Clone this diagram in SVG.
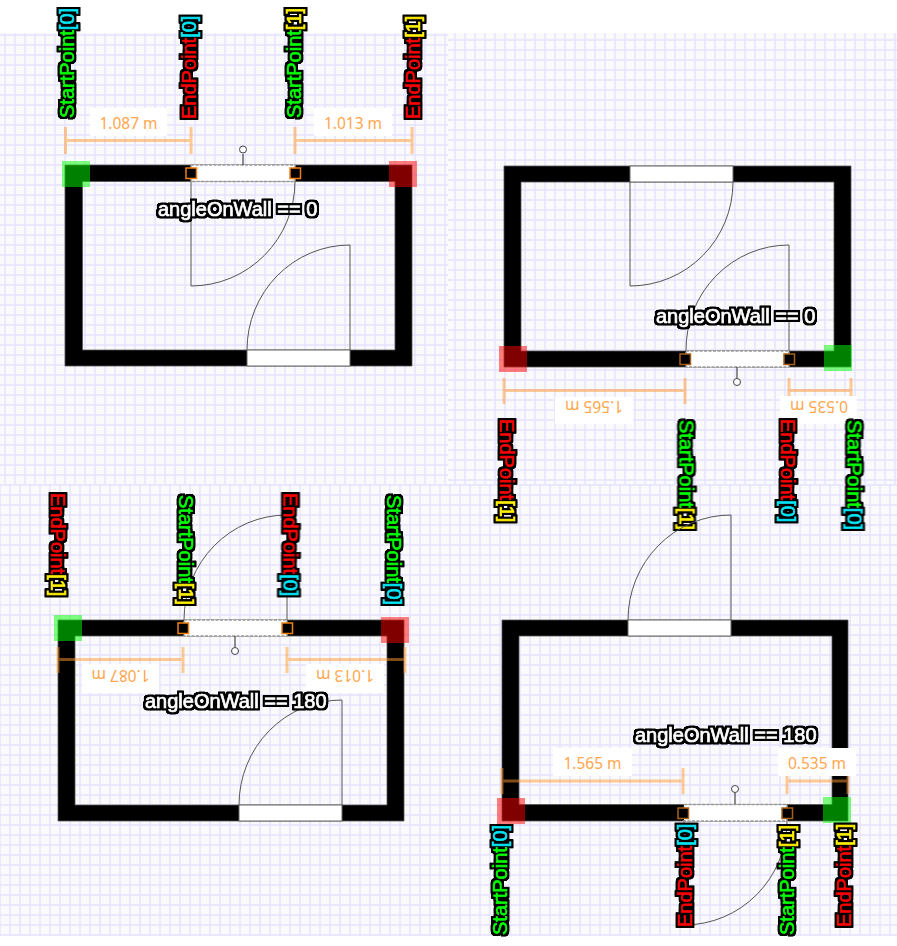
<svg xmlns="http://www.w3.org/2000/svg" width="897" height="946" viewBox="0 0 897 946">
<style>
.wall{fill:#000;stroke:#555;stroke-width:.8}
.door{fill:#fff;stroke:#666;stroke-width:1}
.seldoor{fill:#fff;stroke:#999;stroke-width:1.5;stroke-dasharray:3 1.5}
.swing{fill:none;stroke:#555;stroke-width:1}
.stem{fill:none;stroke:#222;stroke-width:1}
.knob{fill:#fff;stroke:#444;stroke-width:1}
.handle{fill:#000;stroke:#f08010;stroke-width:1.5}
.handle2{fill:#000;stroke:#a8601a;stroke-width:1.5}
.gs{fill:#00ff00;fill-opacity:.5}
.rs{fill:#ff0000;fill-opacity:.5}
.dim{fill:none;stroke:#ff9830;stroke-opacity:.5;stroke-width:3}
.box{fill:#fff}
.dt{font-family:"Noto Sans",sans-serif;font-size:15.5px;fill:#ffa64d;text-anchor:middle}
.lab{font-family:"Liberation Sans",sans-serif;font-size:20px;stroke-width:.7;filter:url(#halo)}
.angle{fill:#fff;stroke:#fff}
.s{fill:#00ff00;stroke:#00ff00}
.e{fill:#ff0000;stroke:#ff0000}
.c{fill:#00e8f8;stroke:#00e8f8}
.y{fill:#fff000;stroke:#fff000}
</style>
<defs>
<filter id="halo" x="-15%" y="-15%" width="130%" height="130%" color-interpolation-filters="sRGB">
<feMorphology in="SourceAlpha" operator="dilate" radius="1.8" result="d"/>
<feGaussianBlur in="d" stdDeviation=".6" result="b"/>
<feComponentTransfer in="b" result="h"><feFuncA type="linear" slope="1.8"/></feComponentTransfer>
<feGaussianBlur in="SourceGraphic" stdDeviation=".25" result="t"/>
<feMerge><feMergeNode in="h"/><feMergeNode in="t"/></feMerge>
</filter>
<pattern id="g1" patternUnits="userSpaceOnUse" width="10" height="10" x="0" y="0"><rect width="10" height="10" fill="#fafafa"/><path d="M5 0V10M0 5H10" stroke="#e5e3ff" stroke-width="1.400"/></pattern>
<pattern id="g2" patternUnits="userSpaceOnUse" width="10" height="10" x="0" y="5"><rect width="10" height="10" fill="#fafafa"/><path d="M5 0V10M0 5H10" stroke="#e5e3ff" stroke-width="1.400"/></pattern>
<pattern id="g3" patternUnits="userSpaceOnUse" width="10" height="10" x="5" y="0"><rect width="10" height="10" fill="#fafafa"/><path d="M5 0V10M0 5H10" stroke="#e5e3ff" stroke-width="1.400"/></pattern>
</defs>
<rect width="897" height="946" fill="#fff"/>
<rect id="bg1" x="0" y="33" width="448" height="451" fill="url(#g1)"/>
<rect id="bg2" x="448" y="33" width="449" height="451" fill="url(#g2)"/>
<rect id="bg3" x="0" y="484" width="897" height="452" fill="url(#g3)"/>

<g id="room1">
<path class="wall" fill-rule="evenodd" d="M65 165H412V366H65ZM82.500 181.500V350H395V181.500Z"/>
<rect class="door" x="247" y="350" width="103" height="16"/>
<path class="swing" d="M350 350V245A103 105 0 0 0 247 350"/>
<path class="swing" d="M191 181V286A104 105 0 0 0 295 181"/>
<rect class="seldoor" x="191" y="165" width="104" height="16.500"/>
<rect class="gs" x="62" y="161" width="28" height="26"/>
<rect class="rs" x="389" y="161" width="28" height="26"/>
<rect class="handle" x="186" y="168" width="10.500" height="10.500"/>
<rect class="handle" x="290" y="168" width="10.500" height="10.500"/>
<path class="stem" d="M243 165V154"/><circle class="knob" cx="243" cy="149.500" r="3.500"/>
<path class="dim" d="M65.500 127V154M65.500 140.500H191M191 127V154"/>
<path class="dim" d="M295 127V154M295 140.500H412M412 127V154"/>
<rect class="box" x="90" y="108" width="77" height="28"/><text class="dt" x="128.500" y="129">1.087 m</text>
<rect class="box" x="314" y="108" width="78" height="28"/><text class="dt" x="353" y="129">1.013 m</text>
<text class="lab angle" x="158" y="216">angleOnWall == 0</text>
<text class="lab" transform="translate(74 118) rotate(-90)"><tspan class="s">StartPoint</tspan><tspan class="c">[0]</tspan></text>
<text class="lab" transform="translate(196 119) rotate(-90)"><tspan class="e">EndPoint</tspan><tspan class="c">[0]</tspan></text>
<text class="lab" transform="translate(301 118) rotate(-90)"><tspan class="s">StartPoint</tspan><tspan class="y">[1]</tspan></text>
<text class="lab" transform="translate(420 119) rotate(-90)"><tspan class="e">EndPoint</tspan><tspan class="y">[1]</tspan></text>
</g>

<g id="room2">
<path class="wall" fill-rule="evenodd" d="M504 166H851V367H504ZM521 182V351H834V182Z"/>
<rect class="door" x="630" y="166" width="103" height="16"/>
<path class="swing" d="M630 182V286A103 104 0 0 0 733 182"/>
<path class="swing" d="M789 351V245A103 105 0 0 0 686 351"/>
<rect class="seldoor" x="686" y="351" width="103" height="16"/>
<rect class="gs" x="824" y="345" width="28" height="26"/>
<rect class="rs" x="499" y="346" width="28" height="26"/>
<rect class="handle2" x="680" y="354" width="10.500" height="10.500"/>
<rect class="handle2" x="784" y="354" width="10.500" height="10.500"/>
<path class="stem" d="M737 367V378"/><circle class="knob" cx="737" cy="382" r="3.500"/>
<path class="dim" d="M504 378V404M504 390.500H685M685 378V404"/>
<path class="dim" d="M789 378V404M789 390.500H851M851 378V404"/>
<rect class="box" x="555" y="397" width="78" height="27"/><text class="dt" transform="translate(594 401) rotate(180)">1.565 m</text>
<rect class="box" x="780" y="396" width="77" height="28"/><text class="dt" transform="translate(819 401) rotate(180)">0.535 m</text>
<text class="lab angle" x="656" y="323">angleOnWall == 0</text>
<text class="lab" transform="translate(500 419) rotate(90)"><tspan class="e">EndPoint</tspan><tspan class="y">[1]</tspan></text>
<text class="lab" transform="translate(679.500 420) rotate(90)"><tspan class="s">StartPoint</tspan><tspan class="y">[1]</tspan></text>
<text class="lab" transform="translate(781 419) rotate(90)"><tspan class="e">EndPoint</tspan><tspan class="c">[0]</tspan></text>
<text class="lab" transform="translate(847.500 420) rotate(90)"><tspan class="s">StartPoint</tspan><tspan class="c">[0]</tspan></text>
</g>

<g id="room3">
<path class="wall" fill-rule="evenodd" d="M58 620H404V821H58ZM75 636V805H387V636Z"/>
<rect class="door" x="239" y="805" width="103" height="16"/>
<path class="swing" d="M342 805V700A103 105 0 0 0 239 805"/>
<path class="swing" d="M287 620V515A103 105 0 0 0 184 620"/>
<rect class="seldoor" x="184" y="620" width="103" height="16"/>
<rect class="gs" x="54" y="615" width="28" height="26"/>
<rect class="rs" x="381" y="617" width="28" height="26"/>
<rect class="handle" x="178" y="623" width="10.500" height="10.500"/>
<rect class="handle" x="282" y="623" width="10.500" height="10.500"/>
<path class="stem" d="M235 636V647"/><circle class="knob" cx="235" cy="651" r="3.500"/>
<path class="dim" d="M58 647V673M58 659.500H183M183 647V673"/>
<path class="dim" d="M287 647V673M287 659.500H405M405 647V673"/>
<rect class="box" x="82" y="664" width="77" height="29"/><text class="dt" transform="translate(120.500 670) rotate(180)">1.087 m</text>
<rect class="box" x="306" y="664" width="78" height="29"/><text class="dt" transform="translate(345 670) rotate(180)">1.013 m</text>
<text class="lab angle" x="145" y="708">angleOnWall == 180</text>
<text class="lab" transform="translate(51 493) rotate(90)"><tspan class="e">EndPoint</tspan><tspan class="y">[1]</tspan></text>
<text class="lab" transform="translate(179 495) rotate(90)"><tspan class="s">StartPoint</tspan><tspan class="y">[1]</tspan></text>
<text class="lab" transform="translate(283.500 493) rotate(90)"><tspan class="e">EndPoint</tspan><tspan class="c">[0]</tspan></text>
<text class="lab" transform="translate(387 495) rotate(90)"><tspan class="s">StartPoint</tspan><tspan class="c">[0]</tspan></text>
</g>

<g id="room4">
<path class="wall" fill-rule="evenodd" d="M502 620H848V821H502ZM519 636V804.500H832V636Z"/>
<rect class="door" x="628" y="620" width="103" height="16"/>
<path class="swing" d="M731 620V515A103 105 0 0 0 628 620"/>
<path class="swing" d="M684 821V925A103 104 0 0 0 787 821"/>
<rect class="seldoor" x="684" y="804.500" width="103" height="16.500"/>
<rect class="gs" x="823" y="797" width="28" height="26"/>
<rect class="rs" x="497" y="798" width="28" height="26"/>
<rect class="handle2" x="678" y="808" width="10.500" height="10.500"/>
<rect class="handle2" x="782" y="808" width="10.500" height="10.500"/>
<path class="stem" d="M735 804V793"/><circle class="knob" cx="735" cy="789" r="3.500"/>
<path class="dim" d="M502 768V794M502 781H683M683 768V794"/>
<path class="dim" d="M787 768V794M787 781H848M848 768V794"/>
<rect class="box" x="553" y="748" width="79" height="28"/><text class="dt" x="592.500" y="769">1.565 m</text>
<rect class="box" x="778" y="748" width="78" height="28"/><text class="dt" x="817" y="769">0.535 m</text>
<text class="lab angle" x="635" y="742">angleOnWall == 180</text>
<text class="lab" transform="translate(507 935) rotate(-90)"><tspan class="s">StartPoint</tspan><tspan class="c">[0]</tspan></text>
<text class="lab" transform="translate(692 927) rotate(-90)"><tspan class="e">EndPoint</tspan><tspan class="c">[0]</tspan></text>
<text class="lab" transform="translate(794 935) rotate(-90)"><tspan class="s">StartPoint</tspan><tspan class="y">[1]</tspan></text>
<text class="lab" transform="translate(851 927) rotate(-90)"><tspan class="e">EndPoint</tspan><tspan class="y">[1]</tspan></text>
</g>
</svg>
